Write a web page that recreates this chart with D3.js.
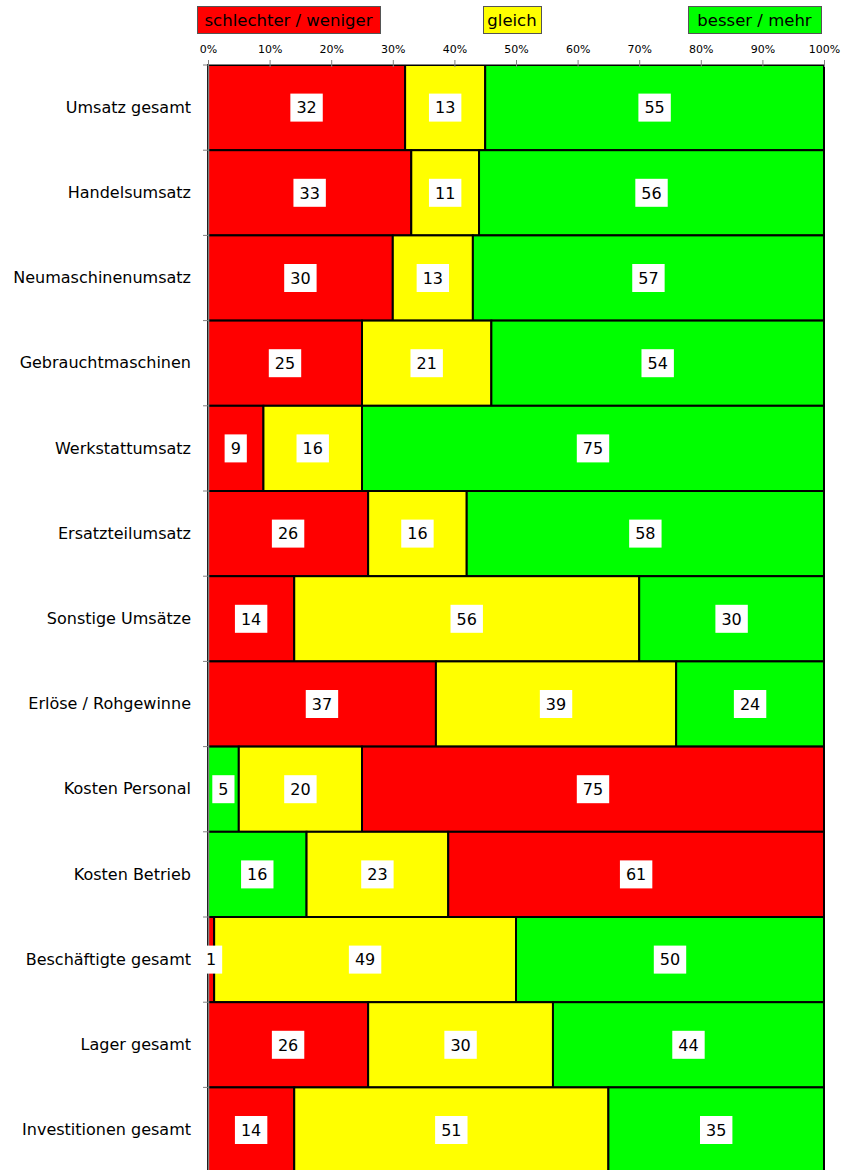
<!DOCTYPE html>
<html>
<head>
<meta charset="utf-8">
<script src="https://cdn.jsdelivr.net/npm/d3@7/dist/d3.min.js"></script>
<style>
  html, body { margin: 0; padding: 0; background: #fff; }
  svg { display: block; }
  text { font-family: "DejaVu Sans", Verdana, sans-serif; }
</style>
</head>
<body>
<svg id="chart" width="841" height="1170"></svg>
<script>
// Survey answers per item, in percent
const categories = [
  "Umsatz gesamt", "Handelsumsatz", "Neumaschinenumsatz", "Gebrauchtmaschinen",
  "Werkstattumsatz", "Ersatzteilumsatz", "Sonstige Umsätze", "Erlöse / Rohgewinne",
  "Kosten Personal", "Kosten Betrieb", "Beschäftigte gesamt", "Lager gesamt",
  "Investitionen gesamt"
];
const schlechter = [32, 33, 30, 25, 9, 26, 14, 37, 75, 61, 1, 26, 14];
const gleich     = [13, 11, 13, 21, 16, 16, 56, 39, 20, 23, 49, 30, 51];
const besser     = [55, 56, 57, 54, 75, 58, 30, 24, 5, 16, 50, 44, 35];
// rows where the "besser / mehr" segment is drawn first (cost items)
const besserZuerst = [false, false, false, false, false, false, false, false, true, true, false, false, false];

const legendLabels = ["schlechter / weniger", "gleich", "besser / mehr"];
const tickValues = [0, 10, 20, 30, 40, 50, 60, 70, 80, 90, 100];

const colors = { schlechter: "#ff0000", gleich: "#ffff00", besser: "#00ff00" };

const svg = d3.select("#chart");
const margin = { left: 208, right: 17, top: 65 };
const width = 841;
const rowStep = 85.2;

const x = d3.scaleLinear().domain([0, 100]).range([margin.left, width - margin.right]);
const y = d3.scaleBand().domain(categories)
  .range([margin.top, margin.top + rowStep * categories.length]).padding(0);

// segments for each row
const rows = categories.map((c, i) => {
  const order = besserZuerst[i]
    ? [["besser", besser[i]], ["gleich", gleich[i]], ["schlechter", schlechter[i]]]
    : [["schlechter", schlechter[i]], ["gleich", gleich[i]], ["besser", besser[i]]];
  let acc = 0;
  return order.map(([key, v]) => {
    const seg = { cat: c, key, value: v, x0: acc, x1: acc + v };
    acc += v;
    return seg;
  });
});

// bars
const barG = svg.append("g");
rows.forEach(segs => {
  barG.selectAll(null).data(segs).enter().append("rect")
    .attr("x", d => x(d.x0))
    .attr("y", d => y(d.cat))
    .attr("width", d => x(d.x1) - x(d.x0))
    .attr("height", y.bandwidth())
    .attr("fill", d => colors[d.key])
    .attr("stroke", "#000")
    .attr("stroke-width", 2);
});

// top axis
const xAxis = d3.axisTop(x).tickValues(tickValues).tickFormat(d => d + "%").tickSize(4).tickSizeOuter(0);
const gx = svg.append("g").attr("transform", `translate(0,${margin.top - 1})`).call(xAxis);
gx.select(".domain").attr("stroke", "#808080");
gx.selectAll(".tick line").attr("stroke", "#808080").attr("y2", 3).attr("y1", -4);
gx.selectAll(".tick text").attr("font-size", 11).attr("fill", "#000").attr("y", -11)
  .attr("font-family", "DejaVu Sans, Verdana, sans-serif");

// left axis
const yAxis = d3.axisLeft(y).tickSize(0).tickPadding(17);
const gy = svg.append("g").attr("transform", `translate(${margin.left},0)`).call(yAxis);
gy.select(".domain").attr("stroke", "#808080").attr("stroke-width", 1.5);
gy.selectAll(".tick text").attr("font-size", 16).attr("fill", "#000")
  .attr("font-family", "DejaVu Sans, Verdana, sans-serif");
// boundary ticks between rows
const bounds = d3.range(categories.length + 1).map(i => margin.top + i * y.step());
svg.append("g").selectAll("line").data(bounds).enter().append("line")
  .attr("x1", margin.left - 5).attr("x2", margin.left)
  .attr("y1", d => d).attr("y2", d => d)
  .attr("stroke", "#808080");

// value labels in white boxes
const labG = svg.append("g");
rows.forEach(segs => {
  segs.forEach(d => {
    const cx = x((d.x0 + d.x1) / 2);
    const cy = y(d.cat) + y.bandwidth() / 2;
    const t = String(d.value);
    const w = t.length * 10.2 + 12;
    labG.append("rect")
      .attr("x", cx - w / 2).attr("y", cy - 14)
      .attr("width", w).attr("height", 28)
      .attr("fill", "#fff");
    labG.append("text")
      .attr("x", cx).attr("y", cy)
      .attr("dy", "0.36em")
      .attr("text-anchor", "middle")
      .attr("font-size", 16)
      .text(t);
  });
});

// legend
const legendBoxes = [
  { label: legendLabels[0], key: "schlechter", x0: 197, x1: 380 },
  { label: legendLabels[1], key: "gleich", x0: 483, x1: 541 },
  { label: legendLabels[2], key: "besser", x0: 688, x1: 821 }
];
const lg = svg.append("g");
legendBoxes.forEach(b => {
  lg.append("rect")
    .attr("x", b.x0 + 0.5).attr("y", 6.5)
    .attr("width", b.x1 - b.x0).attr("height", 27)
    .attr("fill", colors[b.key])
    .attr("stroke", "#555").attr("stroke-width", 1);
  lg.append("text")
    .attr("x", (b.x0 + b.x1) / 2).attr("y", 20)
    .attr("dy", "0.36em")
    .attr("text-anchor", "middle")
    .attr("font-size", 16.5)
    .text(b.label);
});
</script>
</body>
</html>
